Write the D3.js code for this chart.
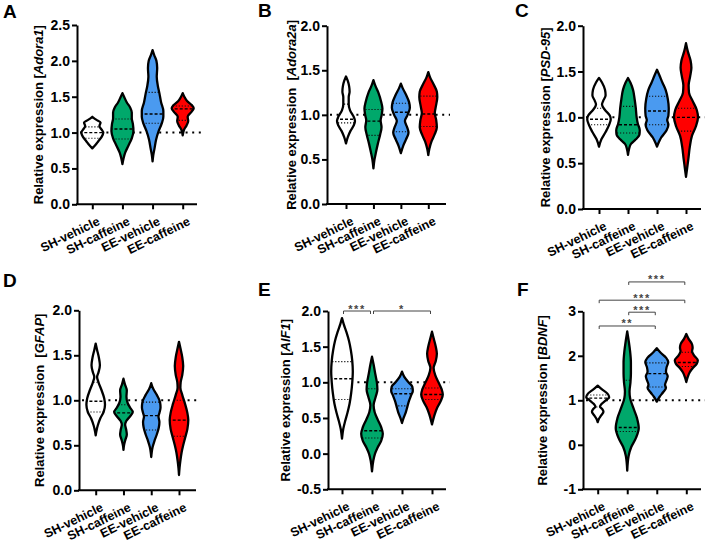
<!DOCTYPE html>
<html><head><meta charset="utf-8">
<script src="https://cdn.jsdelivr.net/npm/d3@7"></script>
<style>
body{margin:0;background:#fff}
svg{display:block;font-family:"Liberation Sans",Arial,sans-serif}
</style></head><body>
<svg id="c" width="708" height="545"></svg>
<script>
// ---------------- DATA ----------------
const categories = ["SH-vehicle","SH-caffeine","EE-vehicle","EE-caffeine"];
const fills = ["#ffffff","#00a86b","#4a9af0","#ff0000"];
const panelLetters = ["A","B","C","D","E","F"];
const genes = ["Adora1","Adora2a","PSD-95","GFAP","AIF1","BDNF"];
const titlePrefixes = ["Relative expression [","Relative expression  [","Relative expression [","Relative expression  [","Relative expression [","Relative expression ["];
const refValue = 1.0;

const ticksA = [0,0.5,1,1.5,2,2.5];
const ticksB = [0,0.5,1,1.5,2];
const ticksC = [0,0.5,1,1.5,2];
const ticksD = [0,0.5,1,1.5,2];
const ticksE = [-0.5,0,0.5,1,1.5,2];
const ticksF = [-1,0,1,2,3];

// violin profiles: [value, relative half-width]
const violinA = [
 [[1.22,0],[1.18,0.35],[1.14,0.75],[1.09,0.65],[1.04,0.85],[1.0,1.0],[0.94,0.85],[0.88,0.55],[0.83,0.3],[0.78,0]],
 [[1.55,0],[1.5,0.15],[1.42,0.4],[1.35,0.7],[1.28,0.85],[1.2,0.85],[1.12,0.95],[1.02,1.0],[0.92,0.85],[0.82,0.55],[0.72,0.25],[0.64,0.1],[0.56,0]],
 [[2.15,0],[2.08,0.15],[2.0,0.35],[1.9,0.42],[1.78,0.38],[1.65,0.48],[1.55,0.62],[1.42,0.78],[1.3,0.98],[1.22,0.98],[1.12,0.82],[1.02,0.55],[0.9,0.32],[0.78,0.18],[0.68,0.06],[0.6,0]],
 [[1.55,0],[1.5,0.15],[1.44,0.4],[1.38,0.85],[1.34,1.0],[1.29,0.8],[1.22,0.45],[1.16,0.5],[1.1,0.35],[1.04,0.12],[0.96,0]]
];
const quartA = [[0.92,1.0,1.08],[0.91,1.05,1.19],[1.13,1.26,1.56],[1.17,1.33,1.37]];

const violinB = [
 [[1.43,0],[1.38,0.2],[1.32,0.35],[1.26,0.4],[1.2,0.3],[1.12,0.3],[1.05,0.45],[0.98,0.85],[0.93,1.0],[0.88,0.85],[0.82,0.5],[0.75,0.2],[0.68,0]],
 [[1.39,0],[1.33,0.2],[1.25,0.55],[1.15,0.85],[1.07,1.0],[1.0,0.92],[0.94,0.8],[0.86,0.9],[0.78,0.75],[0.68,0.5],[0.58,0.28],[0.5,0.12],[0.4,0]],
 [[1.35,0],[1.3,0.2],[1.22,0.6],[1.14,0.92],[1.08,1.0],[1.0,0.75],[0.93,0.45],[0.86,0.7],[0.8,0.85],[0.72,0.55],[0.65,0.25],[0.57,0]],
 [[1.48,0],[1.42,0.2],[1.34,0.6],[1.26,0.95],[1.2,1.0],[1.1,0.85],[1.02,0.72],[0.94,0.88],[0.86,0.95],[0.78,0.7],[0.7,0.35],[0.62,0.12],[0.55,0]]
];
const quartB = [[0.91,0.95,1.12],[0.77,0.93,1.06],[0.81,1.03,1.13],[0.87,1.01,1.21]];

const violinC = [
 [[1.43,0],[1.38,0.25],[1.3,0.5],[1.24,0.55],[1.18,0.35],[1.14,0.25],[1.08,0.5],[1.02,0.9],[0.98,0.98],[0.92,0.85],[0.84,0.55],[0.76,0.2],[0.68,0]],
 [[1.43,0],[1.38,0.2],[1.3,0.42],[1.2,0.55],[1.1,0.65],[1.0,0.72],[0.93,0.82],[0.86,0.98],[0.81,0.95],[0.76,0.65],[0.71,0.25],[0.65,0.08],[0.59,0]],
 [[1.52,0],[1.46,0.2],[1.38,0.45],[1.3,0.72],[1.2,0.9],[1.1,0.98],[1.02,0.95],[0.97,0.85],[0.92,0.95],[0.86,0.8],[0.78,0.35],[0.72,0.12],[0.68,0]],
 [[1.81,0],[1.72,0.15],[1.62,0.38],[1.54,0.45],[1.45,0.35],[1.35,0.22],[1.27,0.25],[1.18,0.55],[1.08,0.9],[1.0,1.0],[0.9,0.82],[0.8,0.5],[0.68,0.32],[0.55,0.2],[0.45,0.1],[0.35,0]]
];
const quartC = [[0.92,0.98,1.1],[0.83,0.92,1.12],[0.92,1.07,1.23],[0.85,1.0,1.1]];

const violinD = [
 [[1.63,0],[1.56,0.15],[1.47,0.35],[1.39,0.45],[1.31,0.3],[1.26,0.15],[1.2,0.3],[1.12,0.6],[1.02,0.92],[0.95,1.0],[0.87,0.85],[0.8,0.5],[0.72,0.22],[0.66,0.08],[0.61,0]],
 [[1.24,0],[1.18,0.15],[1.11,0.36],[1.04,0.32],[0.97,0.45],[0.92,0.7],[0.87,1.0],[0.82,0.7],[0.77,0.3],[0.73,0.18],[0.67,0.3],[0.62,0.36],[0.56,0.2],[0.5,0.06],[0.45,0]],
 [[1.19,0],[1.13,0.2],[1.06,0.6],[0.98,0.95],[0.92,1.0],[0.86,0.88],[0.82,0.78],[0.76,0.88],[0.7,0.82],[0.62,0.6],[0.55,0.35],[0.48,0.15],[0.42,0.05],[0.37,0]],
 [[1.65,0],[1.58,0.15],[1.48,0.35],[1.38,0.45],[1.28,0.35],[1.2,0.18],[1.14,0.15],[1.06,0.35],[0.96,0.65],[0.86,0.9],[0.78,1.0],[0.68,0.9],[0.58,0.65],[0.5,0.45],[0.42,0.28],[0.33,0.15],[0.25,0.06],[0.17,0]]
];
const quartD = [[0.87,0.99,1.2],[0.72,0.86,0.95],[0.67,0.83,0.98],[0.6,0.78,1.0]];

const violinE = [
 [[1.9,0],[1.82,0.15],[1.7,0.42],[1.58,0.65],[1.45,0.82],[1.3,0.95],[1.15,1.0],[1.0,0.95],[0.85,0.85],[0.7,0.7],[0.57,0.5],[0.45,0.28],[0.35,0.12],[0.21,0]],
 [[1.36,0],[1.25,0.15],[1.12,0.3],[1.0,0.45],[0.9,0.5],[0.8,0.35],[0.68,0.15],[0.58,0.25],[0.47,0.55],[0.37,0.85],[0.28,1.0],[0.18,0.85],[0.08,0.5],[0.0,0.28],[-0.1,0.12],[-0.25,0]],
 [[1.15,0],[1.08,0.2],[1.0,0.6],[0.94,0.95],[0.88,1.0],[0.82,0.85],[0.74,0.65],[0.66,0.5],[0.58,0.35],[0.5,0.15],[0.43,0]],
 [[1.71,0],[1.62,0.15],[1.5,0.35],[1.4,0.45],[1.3,0.35],[1.2,0.15],[1.1,0.3],[1.0,0.6],[0.9,0.9],[0.83,1.0],[0.75,0.85],[0.65,0.5],[0.55,0.25],[0.47,0.1],[0.41,0]]
];
const quartE = [[0.76,1.05,1.29],[0.22,0.32,0.91],[0.67,0.84,0.91],[0.76,0.83,0.92]];

const violinF = [
 [[1.33,0],[1.25,0.35],[1.15,0.85],[1.07,1.0],[1.0,0.7],[0.92,0.35],[0.86,0.2],[0.8,0.4],[0.74,0.5],[0.66,0.3],[0.58,0.1],[0.51,0]],
 [[2.55,0],[2.35,0.12],[2.1,0.25],[1.85,0.32],[1.6,0.32],[1.4,0.28],[1.2,0.2],[1.05,0.25],[0.85,0.5],[0.6,0.85],[0.38,1.0],[0.15,0.75],[-0.05,0.35],[-0.25,0.12],[-0.58,0]],
 [[2.17,0],[2.08,0.3],[1.96,0.8],[1.86,1.0],[1.74,0.85],[1.64,0.8],[1.54,0.95],[1.45,0.85],[1.35,0.72],[1.28,0.8],[1.18,0.55],[1.08,0.25],[0.97,0]],
 [[2.49,0],[2.38,0.2],[2.26,0.5],[2.18,0.55],[2.1,0.5],[2.0,0.7],[1.9,1.0],[1.82,0.9],[1.72,0.55],[1.63,0.3],[1.52,0.12],[1.41,0]]
];
const quartF = [[0.85,1.05,1.12],[0.3,0.39,1.45],[1.3,1.6,1.84],[1.76,1.85,2.08]];

// significance brackets: [from index, to index, level (data units), label]
const sigE = [[0,1,2.0,"***"],[1,3,2.0,"*"]];
const sigF = [[0,2,2.67,"**"],[1,2,2.98,"***"],[0,3,3.25,"***"],[1,3,3.66,"***"]];

// ---------------- LAYOUT ----------------
const svg = d3.select("#c");
const fmt1 = d => d.toFixed(1);
const fmt0 = d => d.toFixed(0);
const panels = [
 {prof:violinA, quart:quartA, ticks:ticksA, dom:[0,2.5], yB:204.3, yT:25, L:77, R:197, first:92.3, last:182.7, half:11, fmt:fmt1, tx:42.5, lx:3, ly:18, sig:[]},
 {prof:violinB, quart:quartB, ticks:ticksB, dom:[0,2], yB:204, yT:25.7, L:327, R:446, first:346, last:428.3, half:9, fmt:fmt1, tx:295.5, lx:258, ly:17, sig:[]},
 {prof:violinC, quart:quartC, ticks:ticksC, dom:[0,2], yB:209, yT:25.7, L:583, R:701, first:599, last:686, half:12, fmt:fmt1, tx:549.5, lx:515, ly:17, sig:[]},
 {prof:violinD, quart:quartD, ticks:ticksD, dom:[0,2], yB:490.3, yT:310.3, L:79, R:196, first:95.7, last:179, half:9.3, fmt:fmt1, tx:43.5, lx:3, ly:287, sig:[]},
 {prof:violinE, quart:quartE, ticks:ticksE, dom:[-0.5,2], yB:489.3, yT:311, L:328, R:446, first:342, last:432, half:10.8, fmt:fmt1, tx:289.5, lx:258, ly:296, sig:sigE},
 {prof:violinF, quart:quartF, ticks:ticksF, dom:[-1,3], yB:489.3, yT:311.3, L:583, R:701, first:597.7, last:686.3, half:11.5, fmt:fmt0, tx:546.5, lx:517, ly:296, sig:sigF}
];

panels.forEach((p, pi) => {
  const g = svg.append("g");
  const y = d3.scaleLinear().domain(p.dom).range([p.yB, p.yT]);
  const x = d3.scalePoint().domain(categories).range([p.first, p.last]);
  const w = d3.scaleLinear().domain([0,1]).range([0, p.half]);

  // reference dotted line
  g.append("line").attr("x1", p.L + 3).attr("x2", p.R + 4)
    .attr("y1", y(refValue)).attr("y2", y(refValue))
    .attr("stroke", "#000").attr("stroke-width", 2).attr("stroke-dasharray", "2,4.6");

  categories.forEach((c, i) => {
    const cx = x(c);
    const area = d3.area().curve(d3.curveMonotoneY)
      .y(d => y(d[0])).x0(d => cx - w(d[1])).x1(d => cx + w(d[1]));
    const dstr = area(p.prof[i]);
    const id = "clip" + pi + "_" + i;
    g.append("clipPath").attr("id", id).append("path").attr("d", dstr);
    g.append("path").attr("d", dstr).attr("fill", fills[i]);
    const q = p.quart[i];
    const lg = g.append("g").attr("clip-path", `url(#${id})`);
    [q[0], q[2]].forEach(v => {
      lg.append("line").attr("x1", cx - p.half - 2).attr("x2", cx + p.half + 2)
        .attr("y1", y(v)).attr("y2", y(v))
        .attr("stroke", "#111").attr("stroke-width", 1.1).attr("stroke-dasharray", "1.2,1.8");
    });
    lg.append("line").attr("x1", cx - p.half - 2).attr("x2", cx + p.half + 2)
      .attr("y1", y(q[1])).attr("y2", y(q[1]))
      .attr("stroke", "#000").attr("stroke-width", 1.4).attr("stroke-dasharray", "3,2");
    g.append("path").attr("d", dstr).attr("fill", "none")
      .attr("stroke", "#000").attr("stroke-width", 2.3).attr("stroke-linejoin", "round");
  });

  // y axis
  const ya = g.append("g").attr("transform", `translate(${p.L},0)`)
    .call(d3.axisLeft(y).tickValues(p.ticks).tickFormat(p.fmt).tickSize(5).tickSizeOuter(0));
  ya.select(".domain").attr("stroke-width", 2);
  ya.selectAll(".tick line").attr("stroke-width", 2);
  ya.selectAll(".tick text").attr("font-size", 14).attr("font-weight", "bold")
    .attr("font-family", "Liberation Sans, Arial, sans-serif").attr("x", -7).attr("fill", "#000");

  // x axis
  const xa = g.append("g").attr("transform", `translate(0,${p.yB})`)
    .call(d3.axisBottom(x).tickSize(5).tickSizeOuter(0));
  xa.select(".domain").remove();
  xa.append("line").attr("x1", p.L - 1).attr("x2", p.R).attr("y1", 0).attr("y2", 0)
    .attr("stroke", "#000").attr("stroke-width", 2);
  xa.selectAll(".tick line").attr("stroke-width", 2);
  xa.selectAll(".tick text").attr("font-size", 12.5).attr("font-weight", "bold")
    .attr("font-family", "Liberation Sans, Arial, sans-serif").attr("fill", "#000")
    .attr("text-anchor", "end").attr("x", 0).attr("y", 0).attr("dy", "0.71em")
    .attr("transform", "translate(4,12) rotate(-26)");

  // y title
  const ym = (p.yB + p.yT) / 2;
  const t = g.append("text").attr("transform", `translate(${p.tx},${ym}) rotate(-90)`)
    .attr("text-anchor", "middle").attr("font-size", 13).attr("font-weight", "bold")
    .style("white-space", "pre");
  t.append("tspan").text(titlePrefixes[pi]);
  t.append("tspan").attr("font-style", "italic").text(genes[pi]);
  t.append("tspan").text("]");

  // panel letter
  g.append("text").attr("x", p.lx).attr("y", p.ly).attr("font-size", 19)
    .attr("font-weight", "bold").text(panelLetters[pi]);

  // significance
  p.sig.forEach(s => {
    const x1 = x(categories[s[0]]) + 1.5, x2 = x(categories[s[1]]) - 1.5;
    const yy = y(s[2]);
    g.append("path").attr("d", `M${x1},${yy+3}V${yy}H${x2}V${yy+3}`)
      .attr("fill", "none").attr("stroke", "#444").attr("stroke-width", 1);
    g.append("text").attr("x", (x1 + x2) / 2).attr("y", yy + 1.5)
      .attr("text-anchor", "middle").attr("font-size", 11).attr("font-weight", "bold")
      .attr("letter-spacing", 1.5).attr("fill", "#444").text(s[3]);
  });
});
</script>
</body></html>
